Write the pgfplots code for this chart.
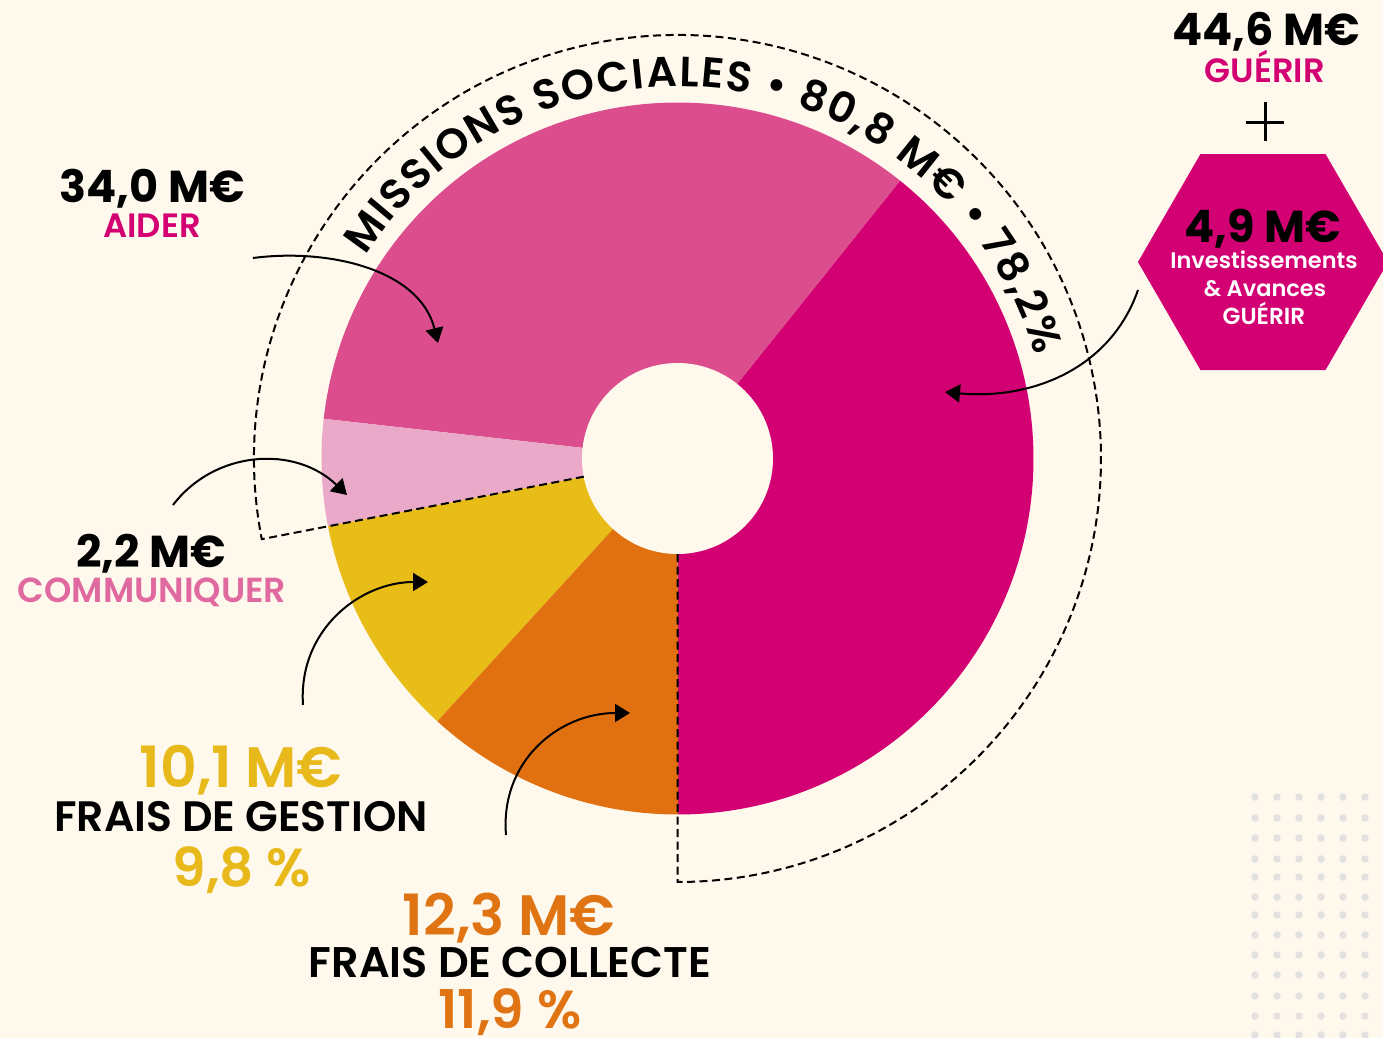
\documentclass[border=0pt]{standalone}
\usepackage{pgfplots}
\pgfplotsset{compat=1.18}
\usepackage{pgfplotstable}
\usepackage{fontspec}
\setmainfont{Poppins}
\newfontfamily\pbold{Poppins Bold}
\newfontfamily\psemi{Poppins SemiBold}
\newfontfamily\pmed{Poppins Medium}
\usetikzlibrary{calc,arrows.meta,decorations.text}
\definecolor{bg}{HTML}{FEF8ED}
\definecolor{guerir}{HTML}{D30073}
\definecolor{aider}{HTML}{DC4D8E}
\definecolor{comm}{HTML}{EBA9C9}
\definecolor{gestion}{HTML}{E8BD17}
\definecolor{collecte}{HTML}{E07010}
\definecolor{commtxt}{HTML}{E06AA0}
\definecolor{gesttxt}{HTML}{E8B91A}
\definecolor{colltxt}{HTML}{E07413}
\definecolor{dotc}{HTML}{E3E2E0}
\tikzset{arr/.style={line width=0.2mm, -{Triangle[length=1.5mm,width=1.8mm]}},
  dsh/.style={line width=0.2mm, dash pattern=on 0.8mm off 0.45mm}}

% angular share of each drawn sector (percent of the ring)
\pgfplotstableread{
segment share
guerir 39.25
aider 33.97
communiquer 4.83
gestion 10.17
collecte 11.81
}\piedata

\pgfplotstableread{
x y
1255 797
1277 797
1299 797
1321 797
1343 797
1365 797
1255 818
1277 818
1299 818
1321 818
1343 818
1365 818
1255 838
1277 838
1299 838
1321 838
1343 838
1365 838
1255 859
1277 859
1299 859
1321 859
1343 859
1365 859
1255 877
1277 877
1299 877
1321 877
1343 877
1365 877
1255 897
1277 897
1299 897
1321 897
1343 897
1365 897
1255 915
1277 915
1299 915
1321 915
1343 915
1365 915
1255 935
1277 935
1299 935
1321 935
1343 935
1365 935
1255 955
1277 955
1299 955
1321 955
1343 955
1365 955
1255 975
1277 975
1299 975
1321 975
1343 975
1365 975
1255 996
1277 996
1299 996
1321 996
1343 996
1365 996
1255 1016
1277 1016
1299 1016
1321 1016
1343 1016
1365 1016
1255 1035
1277 1035
1299 1035
1321 1035
1343 1035
1365 1035
}\dotgrid

\newcommand\sector[3]{\fill[#3] (C) -- ($(C)+(#1:35.6mm)$) arc[start angle=#1,end angle=#2,radius=35.6mm] -- cycle;}

\begin{document}
\begin{tikzpicture}
\pgfmathsetmacro\aA{-90}
\pgfplotstablegetelem{0}{share}\of\piedata\pgfmathsetmacro\aB{\aA+3.6*\pgfplotsretval}
\pgfplotstablegetelem{1}{share}\of\piedata\pgfmathsetmacro\aC{\aB+3.6*\pgfplotsretval}
\pgfplotstablegetelem{2}{share}\of\piedata\pgfmathsetmacro\aD{\aC+3.6*\pgfplotsretval}
\pgfplotstablegetelem{3}{share}\of\piedata\pgfmathsetmacro\aE{\aD+3.6*\pgfplotsretval}
\pgfplotstablegetelem{4}{share}\of\piedata\pgfmathsetmacro\aF{\aE+3.6*\pgfplotsretval}
\begin{axis}[name=ax, x=0.1mm, y=0.1mm, xmin=0, xmax=1383, ymin=0, ymax=1038,
  y dir=reverse, hide axis, clip=false]
\fill[bg] (axis cs:0,0) rectangle (axis cs:1383,1038);
\addplot[only marks, mark=*, mark size=0.85pt, draw=dotc, fill=dotc, color=dotc] table {\dotgrid};
\coordinate (C) at (axis cs:677.5,458.5);
\sector{\aA}{\aB}{guerir}
\sector{\aB}{\aC}{aider}
\sector{\aC}{\aD}{comm}
\sector{\aD}{\aE}{gestion}
\sector{\aE}{\aF}{collecte}
\fill[bg] (C) circle[radius=9.55mm];
\draw[dsh] ($(C)+(\aD:9.55mm)$) -- ($(C)+(\aD:42.35mm)$) arc[start angle=\aD,end angle=-90,radius=42.35mm] -- ($(C)+(-90:9.55mm)$);
\path[decorate,decoration={text along path, text align=fit to path,
  text={|\psemi\fontsize{12}{12}\selectfont|MISSIONS SOCIALES • 80,8 M€ • 78,2{\%}}}]
  ($(C)+(147:37.2mm)$) arc[start angle=147,end angle=16,radius=37.2mm];

% labels
\node[anchor=base, inner sep=0, font=\pbold\fontsize{12.7}{13}\selectfont] at (axis cs:152,202) {34,0 M€};
\node[anchor=base, inner sep=0, text=guerir, font=\psemi\fontsize{9.6}{10}\selectfont] at (axis cs:152,237) {AIDER};
\node[anchor=base, inner sep=0, font=\pbold\fontsize{12.7}{13}\selectfont] at (axis cs:151,567) {2,2 M€};
\node[anchor=base, inner sep=0, text=commtxt, font=\psemi\fontsize{9.9}{10}\selectfont] at (axis cs:152,602) {COMMUNIQUER};
\node[anchor=base, inner sep=0, text=gesttxt, font=\psemi\fontsize{16.2}{17}\selectfont] at (axis cs:241,787) {10,1 M€};
\node[anchor=base, inner sep=0, font=\psemi\fontsize{12.1}{12}\selectfont] at (axis cs:241,831) {FRAIS DE GESTION};
\node[anchor=base, inner sep=0, text=gesttxt, font=\psemi\fontsize{15.2}{17}\selectfont] at (axis cs:242,886) {9,8 \%};
\node[anchor=base, inner sep=0, text=colltxt, font=\psemi\fontsize{16.2}{17}\selectfont] at (axis cs:509,935) {12,3 M€};
\node[anchor=base, inner sep=0, font=\psemi\fontsize{12.2}{12}\selectfont] at (axis cs:510,977) {FRAIS DE COLLECTE};
\node[anchor=base, inner sep=0, text=colltxt, font=\psemi\fontsize{15.2}{17}\selectfont] at (axis cs:510,1028) {11,9 \%};
\node[anchor=base, inner sep=0, font=\pbold\fontsize{12.7}{13}\selectfont] at (axis cs:1266,45) {44,6 M€};
\node[anchor=base, inner sep=0, text=guerir, font=\psemi\fontsize{9.6}{10}\selectfont] at (axis cs:1265,82) {GUÉRIR};
\draw[line width=0.3mm] (axis cs:1246,122) -- (axis cs:1284,122);
\draw[line width=0.3mm] (axis cs:1265,102) -- (axis cs:1265,141);

% hexagon
\fill[guerir] (axis cs:1138,262) -- (axis cs:1200.5,154) -- (axis cs:1325.5,154) -- (axis cs:1388,262) -- (axis cs:1325.5,370) -- (axis cs:1200.5,370) -- cycle;
\node[anchor=base, inner sep=0, font=\pbold\fontsize{12.7}{13}\selectfont] at (axis cs:1263,242) {4,9 M€};
\node[anchor=base, inner sep=0, text=white, font=\psemi\fontsize{6.4}{7}\selectfont] at (axis cs:1264,268) {Investissements};
\node[anchor=base, inner sep=0, text=white, font=\psemi\fontsize{6.4}{7}\selectfont] at (axis cs:1265,296) {\& Avances};
\node[anchor=base, inner sep=0, text=white, font=\psemi\fontsize{6.6}{7}\selectfont] at (axis cs:1264,324) {GUÉRIR};

% arrows
\draw[arr] (axis cs:253,258) .. controls (axis cs:330,248) and (axis cs:420,270) .. (axis cs:438,343);
\draw[arr] (axis cs:173,505) .. controls (axis cs:215,450) and (axis cs:295,445) .. (axis cs:347,495);
\draw[arr] (axis cs:303,705) .. controls (axis cs:298,630) and (axis cs:360,582) .. (axis cs:428,582);
\draw[arr] (axis cs:506,835) .. controls (axis cs:500,760) and (axis cs:560,713) .. (axis cs:630,713);
\draw[arr] (axis cs:1138,290) .. controls (axis cs:1110,370) and (axis cs:1030,400) .. (axis cs:945,392);
\end{axis}
\pgfresetboundingbox
\path (ax.south west) rectangle (ax.north east);
\end{tikzpicture}
\end{document}
